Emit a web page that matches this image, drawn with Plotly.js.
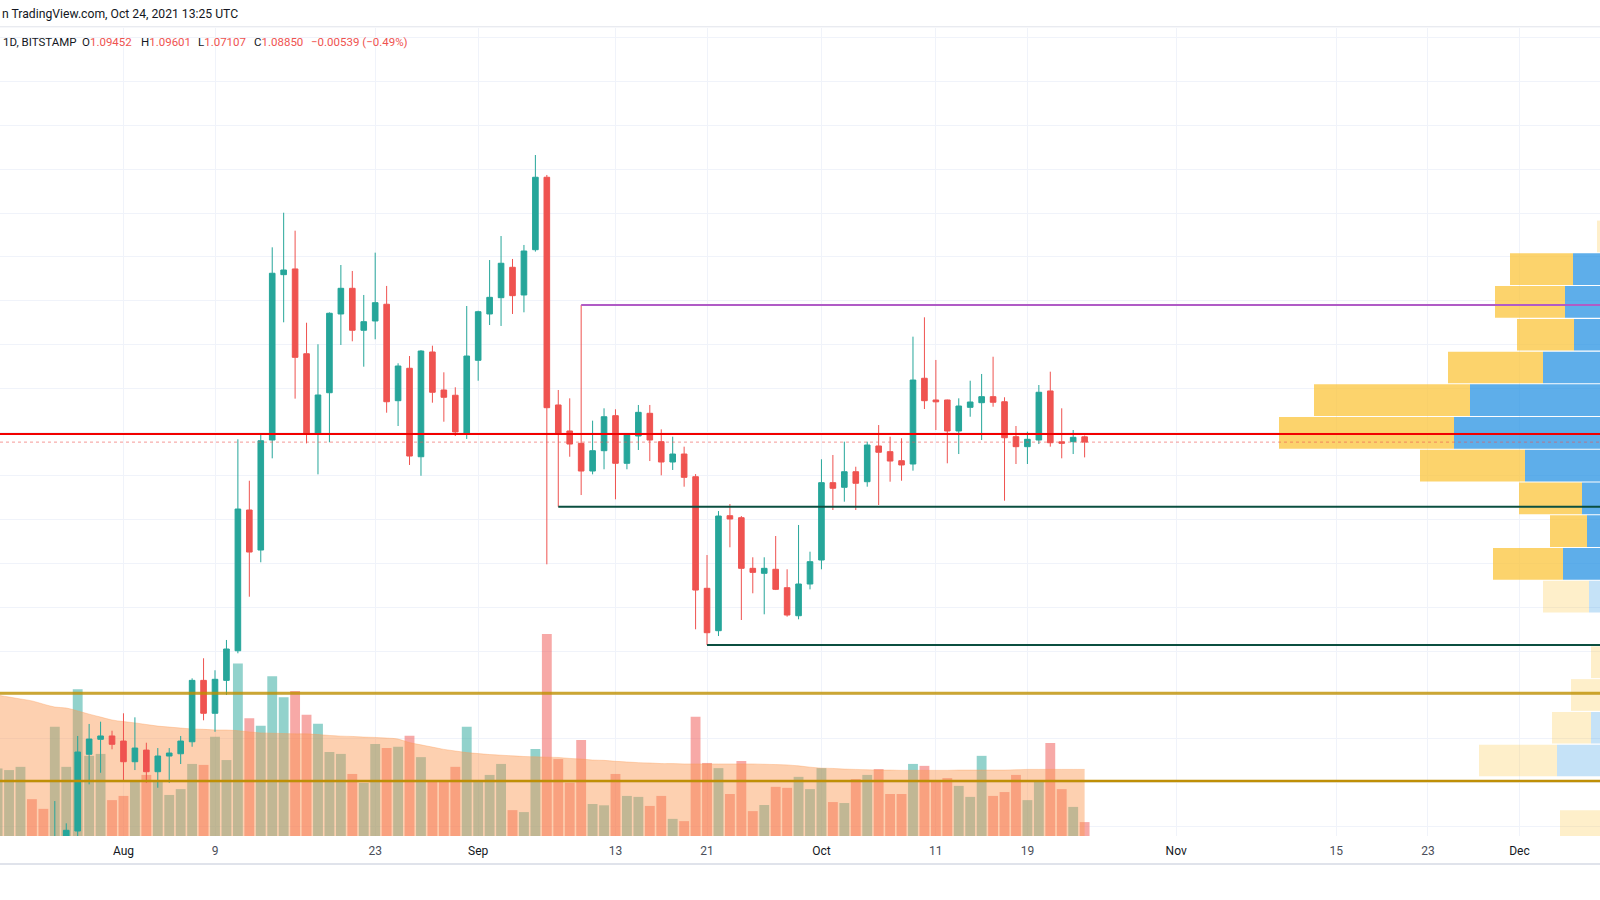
<!DOCTYPE html>
<html>
<head>
<meta charset="utf-8">
<script src="https://cdn.plot.ly/plotly-3.0.1.min.js"></script>
<style>
  html, body { margin: 0; padding: 0; background: #ffffff; }
  #chart { width: 1600px; height: 900px; }
</style>
</head>
<body>
<div id="chart"></div>
<script>
// Daily candles, Jul 21 - Oct 24 2021 (BITSTAMP, 1D)
const firstDay = Date.UTC(2021, 6, 21);
const dayCount = 96;

const openPx = [
  0.545, 0.590, 0.595, 0.610, 0.605, 0.600, 0.625, 0.6445, 0.7321, 0.7492, 0.7530,
  0.7472, 0.7236, 0.7369, 0.7122, 0.7301, 0.7327, 0.7464, 0.8165, 0.7789, 0.8165, 0.8503, 1.0110, 0.9653, 1.0909, 1.2797, 1.2862,
  1.1894, 1.0974, 1.1449, 1.2348, 1.2641, 1.2162, 1.2268, 1.2459, 1.1358, 1.1728, 1.0718, 1.1914, 1.1480, 1.1420, 1.0978,
  1.1819, 1.2348, 1.2534, 1.2881, 1.2565, 1.3082, 1.3909, 1.1309, 1.1012, 1.0871, 1.0555, 1.0787, 1.1187, 1.0643, 1.0955,
  1.1214, 1.0890, 1.0658, 1.0749, 1.0490, 0.9216, 0.8732, 1.0045, 1.0022, 0.9444, 0.9387, 0.9433, 0.9223, 0.8903, 0.9265,
  0.9539, 1.0422, 1.0369, 1.0547, 1.0433, 1.0841, 1.0776, 1.0673, 1.0635, 1.1614, 1.1366, 1.1366, 1.1012, 1.1282, 1.1335,
  1.1404, 1.1346, 1.0947, 1.0833, 1.0909, 1.1469, 1.0888, 1.0890, 1.09452
];
const highPx = [
  0.595, 0.600, 0.612, 0.625, 0.615, 0.6787, 0.6533, 0.7530, 0.7667, 0.7693, 0.7590,
  0.7789, 0.7743, 0.7453, 0.7392, 0.7392, 0.7530, 0.8188, 0.8417, 0.8280, 0.8626, 1.0917, 1.0444, 1.0966, 1.3109, 1.3504, 1.3299,
  1.2248, 1.2002, 1.2366, 1.2907, 1.2839, 1.2565, 1.3048, 1.2668, 1.1785, 1.1868, 1.1935, 1.1986, 1.1682, 1.1511, 1.2439,
  1.2385, 1.2964, 1.3238, 1.2976, 1.3136, 1.4163, 1.3935, 1.1480, 1.1385, 1.2451, 1.1130, 1.1271, 1.1260, 1.0986, 1.1309,
  1.1309, 1.1031, 1.0947, 1.0833, 1.0520, 0.9596, 1.0098, 1.0178, 1.0041, 0.9570, 0.9570, 0.9813, 0.9433, 0.9939, 0.9634,
  1.0689, 1.0738, 1.0890, 1.0604, 1.0890, 1.1080, 1.0947, 1.0929, 1.2089, 1.2310, 1.1823, 1.1370, 1.1385, 1.1586, 1.1663,
  1.1860, 1.1397, 1.1069, 1.1004, 1.1537, 1.1689, 1.1271, 1.1023, 1.09601
];
const lowPx = [
  0.540, 0.580, 0.585, 0.600, 0.590, 0.595, 0.600, 0.6360, 0.6978, 0.7110, 0.7378,
  0.7027, 0.7141, 0.6996, 0.6939, 0.6996, 0.7210, 0.7407, 0.7709, 0.7578, 0.7998, 0.8474, 0.9120, 0.9513, 1.0700, 1.2253, 1.1381,
  1.0871, 1.0517, 1.0883, 1.1994, 1.2036, 1.1746, 1.2059, 1.1221, 1.1069, 1.0624, 1.0501, 1.1335, 1.1118, 1.0955, 1.0921,
  1.1586, 1.2222, 1.2211, 1.2348, 1.2367, 1.3060, 0.9490, 1.0147, 1.0718, 1.0281, 1.0517, 1.0575, 1.0232, 1.0575, 1.0795,
  1.0669, 1.0506, 1.0567, 1.0376, 0.8748, 0.8568, 0.8671, 0.9684, 0.8854, 0.9159, 0.8919, 0.9196, 0.8892, 0.8862, 0.9204,
  0.9433, 1.0110, 1.0205, 1.0110, 1.0376, 1.0167, 1.0433, 1.0444, 1.0559, 1.1263, 1.1023, 1.0643, 1.0749, 1.1175, 1.0909,
  1.1289, 1.0216, 1.0635, 1.0635, 1.0863, 1.0833, 1.0700, 1.0749, 1.07107
];
const closePx = [
  0.590, 0.595, 0.610, 0.605, 0.600, 0.625, 0.6453, 0.7347, 0.7495, 0.7530, 0.7435,
  0.7236, 0.7392, 0.7122, 0.7301, 0.7335, 0.7472, 0.8165, 0.7789, 0.8177, 0.8523, 1.0121, 0.9630, 1.0901, 1.2813, 1.2850, 1.1853,
  1.0978, 1.1423, 1.2356, 1.2641, 1.2162, 1.2260, 1.2477, 1.1346, 1.1754, 1.0726, 1.1925, 1.1454, 1.1397, 1.1001, 1.1868,
  1.2374, 1.2538, 1.2927, 1.2557, 1.3067, 1.3909, 1.1278, 1.0986, 1.0863, 1.0555, 1.0787, 1.1175, 1.0643, 1.0966, 1.1225,
  1.0909, 1.0658, 1.0749, 1.0483, 0.9196, 0.8709, 1.0041, 1.0007, 0.9444, 0.9398, 0.9444, 0.9204, 0.8911, 0.9265, 0.9520,
  1.0422, 1.0358, 1.0547, 1.0415, 1.0852, 1.0769, 1.0669, 1.0624, 1.1594, 1.1358, 1.1345, 1.1012, 1.1297, 1.1343, 1.1404,
  1.1340, 1.0935, 1.0833, 1.0917, 1.1454, 1.0878, 1.0872, 1.0940, 1.08850
];

// volume (millions) and its moving average
const volume = [
  20.9, 20.4, 21.4, 11.4, 8.4, 33.8, 21.4, 45.4, 24.8, 25.4, 11.1,
  12.4, 17.3, 18.9, 17.3, 12.7, 14.5, 22.3, 22.0, 30.7, 23.5, 53.4, 36.4, 34.1, 49.4, 42.9, 44.9,
  37.5, 34.7, 26.0, 25.4, 19.2, 16.4, 28.5, 27.2, 27.6, 31.0, 24.4, 16.8, 16.8, 21.4, 33.8,
  16.8, 18.9, 22.3, 8.0, 7.4, 26.9, 62.5, 23.8, 16.5, 29.7, 9.9, 9.5, 19.2, 12.4, 12.1,
  9.3, 12.4, 5.3, 4.6, 36.9, 22.6, 21.0, 13.0, 23.2, 7.7, 9.6, 15.2, 14.9, 18.3, 14.5,
  21.0, 10.5, 10.2, 17.6, 18.9, 20.7, 13.0, 13.0, 22.3, 21.7, 17.3, 17.9, 15.5, 12.1, 24.8,
  12.4, 13.6, 18.9, 11.1, 16.8, 28.8, 14.5, 9.0, 4.3
];
const volumeMA = [
  43.6, 43.0, 42.4, 41.8, 40.8, 39.9, 39.6, 38.7, 37.7, 36.8, 35.9,
  35.4, 35.0, 34.5, 34.0, 33.7, 33.4, 33.1, 33.0, 32.8, 32.8, 32.6, 32.2, 31.9, 31.8, 31.7, 31.6,
  31.6, 31.4, 31.1, 30.9, 30.8, 30.6, 30.5, 30.3, 30.0, 28.9, 28.2, 27.5, 26.8, 26.3, 25.8,
  25.5, 25.2, 25.0, 24.8, 24.6, 24.5, 24.4, 24.3, 24.0, 23.8, 23.5, 23.4, 23.1, 22.9, 22.7,
  22.6, 22.4, 22.4, 22.3, 22.3, 22.3, 22.3, 22.3, 22.3, 22.3, 22.2, 22.1, 22.0, 21.7, 21.3,
  21.0, 20.9, 20.7, 20.6, 20.5, 20.4, 20.4, 20.3, 20.3, 20.3, 20.3, 20.3, 20.4, 20.4, 20.4,
  20.4, 20.4, 20.5, 20.6, 20.6, 20.6, 20.6, 20.6, 20.6
];

// visible range volume profile rows (price centre, up / down volume)
const vpPrice = [1.3233, 1.2859, 1.2485, 1.2111, 1.1737, 1.1364, 1.0990, 1.0616, 1.0242, 0.9868,
                 0.9494, 0.9120, 0.8746, 0.8372, 0.7998, 0.7624, 0.7250, 0.6876, 0.6502];
const vpUp   = [38, 67, 75, 66, 97, 170, 186, 115, 58, 53, 77, 51, 20, 35, 38, 49, 83, 25, 38];
const vpDown = [5, 63, 70, 57, 95, 156, 175, 105, 63, 37, 70, 46, 15, 14, 31, 39, 78, 10, 42];
const vpValueArea = [false, true, true, true, true, true, true, true, true, true, true,
                     false, false, false, false, false, false, false, false];

// drawn levels
const supportLevel = 1.0978;   // red
const lastPrice = 1.0885;      // dotted
const rayLevels = [
  {from: '2021-09-10', price: 1.2451, color: '#B05BC6'},
  {from: '2021-09-08', price: 1.0147, color: '#0B4F40'},
  {from: '2021-09-21', price: 0.8568, color: '#0B4F40'}
];
const goldLevels = [0.8017, 0.7016];

// axis labels
const tickDates = ['2021-08-01', '2021-08-09', '2021-08-23', '2021-09-01', '2021-09-13', '2021-09-21',
                   '2021-10-01', '2021-10-11', '2021-10-19', '2021-11-01', '2021-11-15', '2021-11-23', '2021-12-01'];
const tickNames = ['Aug', '9', '23', 'Sep', '13', '21', 'Oct', '11', '19', 'Nov', '15', '23', 'Dec'];

const UP = '#26A69A';
const DOWN = '#EF5350';
const FONT = 'Roboto, "Open Sans", sans-serif';

const dates = [];
for (let i = 0; i < dayCount; i++) {
  dates.push(new Date(firstDay + i * 86400000).toISOString().slice(0, 10));
}

const volColors = closePx.map((c, i) => c >= openPx[i] ? 'rgba(38,166,154,0.5)' : 'rgba(239,83,80,0.5)');

const traces = [
  {
    type: 'bar', x: dates, y: volume, xaxis: 'x', yaxis: 'y',
    width: 86400000 * 0.86,
    marker: {color: volColors, line: {width: 0}},
    hoverinfo: 'skip'
  },
  {
    type: 'scatter', mode: 'lines', x: dates, y: volumeMA, xaxis: 'x', yaxis: 'y',
    fill: 'tozeroy', fillcolor: 'rgba(251,151,79,0.45)',
    line: {color: 'rgba(251,151,79,0.35)', width: 1, shape: 'spline'},
    hoverinfo: 'skip'
  },
  {
    type: 'candlestick', x: dates, open: openPx, high: highPx, low: lowPx, close: closePx,
    xaxis: 'x', yaxis: 'y2', whiskerwidth: 0,
    increasing: {line: {color: UP, width: 1}, fillcolor: UP},
    decreasing: {line: {color: DOWN, width: 1}, fillcolor: DOWN},
    hoverinfo: 'skip'
  },
  {
    type: 'bar', orientation: 'h', y: vpPrice, x: vpUp, base: 0,
    xaxis: 'x2', yaxis: 'y2', width: 0.0362,
    marker: {color: vpValueArea.map(v => v ? 'rgba(25,140,225,0.7)' : 'rgba(25,140,225,0.25)'), line: {width: 0}},
    hoverinfo: 'skip'
  },
  {
    type: 'bar', orientation: 'h', y: vpPrice, x: vpDown, base: vpUp,
    xaxis: 'x2', yaxis: 'y2', width: 0.0362,
    marker: {color: vpValueArea.map(v => v ? 'rgba(251,192,45,0.7)' : 'rgba(251,192,45,0.25)'), line: {width: 0}},
    hoverinfo: 'skip'
  }
];

const shapes = [
  // header separator and bottom border
  {type: 'line', xref: 'paper', yref: 'paper', x0: 0, x1: 1, y0: 1.0015, y1: 1.0015,
   line: {color: '#E0E3EB', width: 1}},
  {type: 'line', xref: 'paper', yref: 'paper', x0: 0, x1: 1, y0: -0.0347, y1: -0.0347,
   line: {color: '#E0E3EB', width: 2}},
  {type: 'line', xref: 'paper', yref: 'y2', x0: 0, x1: 1, y0: lastPrice, y1: lastPrice,
   line: {color: 'rgba(239,83,80,0.6)', width: 1, dash: 'dot'}},
  {type: 'line', xref: 'paper', yref: 'y2', x0: 0, x1: 1, y0: supportLevel, y1: supportLevel,
   line: {color: '#F20000', width: 2}}
];
goldLevels.forEach((p, i) => shapes.push({
  type: 'line', xref: 'paper', yref: 'y2', x0: 0, x1: 1, y0: p, y1: p,
  line: {color: i === 0 ? 'rgba(191,144,0,0.8)' : '#BF8F06', width: i === 0 ? 3 : 2.5}
}));
rayLevels.forEach(r => shapes.push({
  type: 'line', xref: 'x', yref: 'y2', x0: r.from, x1: '2022-03-01', y0: r.price, y1: r.price,
  line: {color: r.color, width: 2}
}));

// header texts, positioned in pixels
const px = x => x / 1600;
const py = y => (836 - y) / 808;
const red = s => '<span style="color:' + DOWN + '">' + s + '</span>';
const legendParts = [
  {x: 1, text: '1D, BITSTAMP'},
  {x: 80, text: 'O' + red('1.09452')},
  {x: 139, text: 'H' + red('1.09601')},
  {x: 196, text: 'L' + red('1.07107')},
  {x: 252, text: 'C' + red('1.08850')},
  {x: 309, text: red('\u22120.00539 (\u22120.49%)')}
];
const annotations = [
  {xref: 'paper', yref: 'paper', x: 0, y: py(14.5), xanchor: 'left', yanchor: 'middle',
   text: 'n TradingView.com, Oct 24, 2021 13:25 UTC', showarrow: false,
   font: {family: FONT, size: 12.2, color: '#131722'}}
];
legendParts.forEach(p => annotations.push({
  xref: 'paper', yref: 'paper', x: px(p.x), y: py(42.5), xanchor: 'left', yanchor: 'middle',
  text: p.text, showarrow: false, font: {family: FONT, size: 11.5, color: '#131722'}
}));

const tickText = tickNames.map(t => /^\d+$/.test(t) ? '<span style="color:#4A4E59">' + t + '</span>' : t);

const layout = {
  width: 1600, height: 900,
  margin: {l: 0, r: 0, t: 28, b: 64},
  paper_bgcolor: '#ffffff', plot_bgcolor: '#ffffff',
  showlegend: false,
  barmode: 'overlay',
  font: {family: FONT},
  xaxis: {
    type: 'date', range: ['2021-07-21 05:02', '2021-12-08 01:00'],
    tickvals: tickDates, ticktext: tickText, ticks: '', ticklabelstandoff: 6,
    tickfont: {family: FONT, size: 12, color: '#131722'},
    showgrid: true, gridcolor: '#F0F3FA', gridwidth: 1,
    zeroline: false, showline: false, fixedrange: true,
    rangeslider: {visible: false}
  },
  xaxis2: {
    overlaying: 'x', range: [1640, 40], showgrid: false, zeroline: false,
    showticklabels: false, fixedrange: true
  },
  yaxis: {
    range: [0, 250], showgrid: false, zeroline: false, showticklabels: false, fixedrange: true
  },
  yaxis2: {
    overlaying: 'y', side: 'right', range: [0.6388, 1.5613],
    tick0: 0, dtick: 0.05, showgrid: true, gridcolor: '#F0F3FA', gridwidth: 1,
    zeroline: false, showticklabels: false, fixedrange: true
  },
  shapes: shapes,
  annotations: annotations
};

Plotly.newPlot('chart', traces, layout, {displayModeBar: false, staticPlot: true});
</script>
</body>
</html>
